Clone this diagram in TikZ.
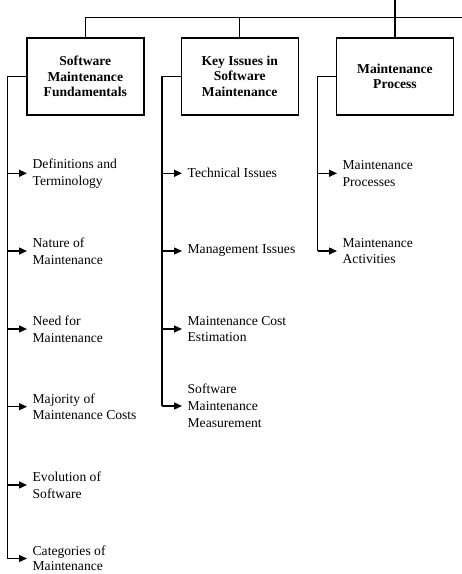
\documentclass[tikz,border=0pt]{standalone}
\usepackage{fontspec}
\setmainfont{Liberation Serif}
\usetikzlibrary{arrows.meta}
\begin{document}
\begin{tikzpicture}[x=1pt,y=-1pt,
  line width=1.3pt,
  topicbox/.style={draw, line width=1.4pt, minimum width=117pt, minimum height=77pt,
    align=center, inner sep=2pt,
    font=\fontsize{13.6}{15.5}\selectfont\bfseries},
  item/.style={anchor=west, align=left, inner xsep=5pt, inner ysep=0pt,
    font=\fontsize{13.6}{16.8}\selectfont},
  arr/.style={-{Triangle[length=8pt,width=7pt]}}]
\useasboundingbox (0,0) rectangle (462,574);

% top bus
\coordinate (top) at (395,0);
\coordinate (bus) at (395,17.3);
\coordinate (busR) at (462,17.3);

% topic boxes
\node[topicbox] (b1) at (85.3,76.3) {Software\\Maintenance\\Fundamentals};
\node[topicbox] (b2) at (239.7,76.3) {Key Issues in\\Software\\Maintenance};
\node[topicbox] (b3) at (395,76.3) {Maintenance\\Process};

\draw (top) -- (bus);
\draw (b1.north) |- (busR);
\draw (b2.north) -- (b2.north |- bus);
\draw (b3.north) -- (bus);

% spines
\coordinate (sp1) at (7.5,0);
\coordinate (sp2) at (162,0);
\coordinate (sp3) at (317.5,0);

% first column
\node[item] (i11) at (27,173.3) {Definitions and\\Terminology};
\node[item] (i12) at (27,251) {Nature of\\Maintenance};
\node[item] (i13) at (27,329) {Need for\\Maintenance};
\node[item] (i14) at (27,406.7) {Majority of\\Maintenance Costs};
\node[item] (i15) at (27,485) {Evolution of\\Software};
\node[item, font=\fontsize{13.6}{15}\selectfont] (i16) at (27,558.5) {Categories of\\Maintenance};

% second column
\node[item] (i21) at (182,173.3) {Technical Issues};
\node[item] (i22) at (182,251) {Management Issues};
\node[item] (i23) at (182,329) {Maintenance Cost\\Estimation};
\node[item] (i24) at (182,406) {Software\\Maintenance\\Measurement};

% third column
\node[item] (i31) at (337,173.3) {Maintenance\\Processes};
\node[item] (i32) at (337,251) {Maintenance\\Activities};

% connectors
\draw (b1.west) -| (sp1 |- i16.west);
\draw (b2.west) -| (sp2 |- i24.west);
\draw (b3.west) -| (sp3 |- i32.west);

\foreach \n in {i11,i12,i13,i14,i15,i16}
  \draw[arr] (sp1 |- \n.west) -- (\n.west);
\foreach \n in {i21,i22,i23,i24}
  \draw[arr] (sp2 |- \n.west) -- (\n.west);
\foreach \n in {i31,i32}
  \draw[arr] (sp3 |- \n.west) -- (\n.west);
\end{tikzpicture}
\end{document}
